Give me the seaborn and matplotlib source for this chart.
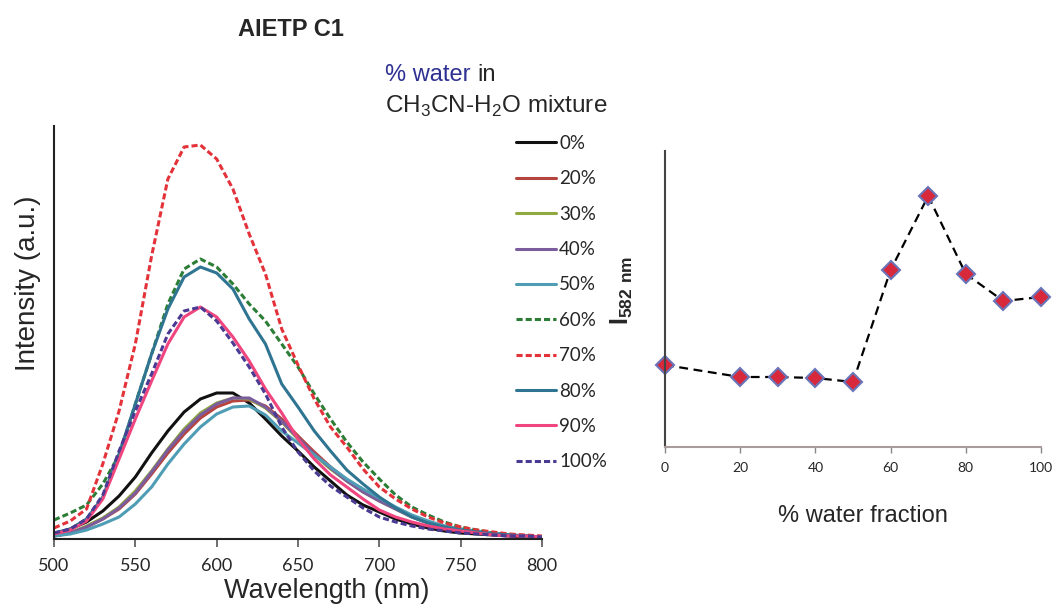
import numpy as np
import pandas as pd
import matplotlib
matplotlib.use("Agg")
import matplotlib.pyplot as plt
import seaborn as sns

# emission spectra (intensity in a.u.)
wavelength = [500, 510, 520, 530, 540, 550, 560, 570, 580, 590, 600, 610, 620, 630, 640, 650,
              660, 670, 680, 690, 700, 710, 720, 730, 740, 750, 760, 770, 780, 790, 800]
water_labels = ["0%", "20%", "30%", "40%", "50%", "60%", "70%", "80%", "90%", "100%"]

i_0 = [5, 10, 17, 28, 43, 62, 86, 108, 127, 140, 146, 146, 136, 120, 103, 88,
       72, 58, 44, 34, 27, 20, 15, 11, 8, 6, 5, 4, 3, 2, 2]
i_20 = [3, 6, 12, 20, 30, 45, 65, 86, 105, 121, 132, 138, 139, 133, 120, 103,
        87, 72, 59, 48, 39, 31, 23, 17, 13, 10, 7, 5, 4, 3, 2]
i_30 = [3, 6, 13, 21, 32, 48, 68, 90, 110, 126, 136, 141, 140, 131, 117, 100,
        84, 70, 58, 47, 38, 30, 22, 16, 12, 9, 7, 5, 4, 3, 2]
i_40 = [3, 6, 12, 20, 31, 46, 67, 89, 108, 124, 135, 141, 141, 132, 118, 101,
        85, 71, 58, 47, 38, 30, 22, 16, 12, 9, 7, 5, 4, 3, 2]
i_50 = [3, 5, 9, 15, 22, 35, 52, 75, 95, 112, 125, 132, 133, 124, 108, 96,
        84, 72, 60, 50, 41, 32, 24, 18, 13, 10, 8, 6, 4, 3, 2]
i_60 = [19, 26, 34, 55, 84, 135, 185, 235, 270, 280, 272, 255, 235, 218, 195, 172,
        145, 120, 97, 77, 60, 44, 32, 24, 17, 12, 9, 6, 4, 3, 2]
i_70 = [11, 18, 30, 75, 128, 195, 283, 360, 392, 394, 380, 350, 305, 265, 210, 174,
        140, 112, 92, 70, 52, 40, 30, 22, 16, 12, 9, 7, 5, 4, 3]
i_80 = [6, 10, 20, 42, 85, 135, 185, 230, 262, 272, 266, 250, 220, 195, 155, 132,
        108, 88, 69, 55, 42, 31, 22, 16, 12, 9, 7, 5, 4, 3, 2]
i_90 = [5, 9, 18, 40, 80, 120, 158, 195, 222, 232, 222, 202, 178, 150, 126, 100,
        80, 64, 52, 40, 29, 22, 17, 13, 10, 8, 6, 4, 3, 3, 2]
i_100 = [6, 10, 20, 44, 88, 128, 165, 205, 228, 232, 218, 196, 172, 145, 112, 87,
         68, 53, 42, 31, 22, 17, 13, 10, 8, 6, 5, 4, 3, 3, 2]

# I at 582 nm versus water fraction
water_frac = [0, 20, 30, 40, 50, 60, 70, 80, 90, 100]
i_582 = [82, 70, 70, 69, 65, 177, 251, 173, 146, 150]

colors = ["#111111", "#b5443f", "#8fa83f", "#7b5c9c", "#4f9db5",
          "#2c7d36", "#e3323a", "#2f7592", "#f0457f", "#4b3a92"]
styles = ["-", "-", "-", "-", "-", (0, (2, 1)), (0, (2, 1)), "-", "-", (0, (2, 1))]

series = [i_0, i_20, i_30, i_40, i_50, i_60, i_70, i_80, i_90, i_100]
df = pd.DataFrame({"wavelength": wavelength * len(series),
                   "intensity": sum(series, []),
                   "water": np.repeat(water_labels, len(wavelength))})

sns.set_theme(style="white")
plt.rcParams["font.family"] = ["Liberation Sans", "DejaVu Sans"]
plt.rcParams["mathtext.fontset"] = "custom"
plt.rcParams["mathtext.rm"] = "Liberation Sans"
plt.rcParams["mathtext.bf"] = "Liberation Sans:bold"

fig = plt.figure(figsize=(10.55, 6.08), dpi=100)

# ---- left panel: spectra ----
ax = fig.add_axes([54 / 1055, 69 / 608, 488 / 1055, 413 / 608])
for lab, col, ls in zip(water_labels, colors, styles):
    sub = df[df["water"] == lab]
    sns.lineplot(data=sub, x="wavelength", y="intensity", color=col, linestyle=ls,
                 linewidth=2.2, label=lab, ax=ax)

ax.set_xlim(500, 800)
ax.set_ylim(0, 413)
ax.set_xticks(range(500, 801, 50))
ax.set_yticks([])
for s in ["top", "right"]:
    ax.spines[s].set_visible(False)
for s in ["left", "bottom"]:
    ax.spines[s].set_color("#222222")
    ax.spines[s].set_linewidth(1.5)
ax.tick_params(axis="x", direction="out", length=6, width=1.2, color="#555555",
               labelsize=13, pad=8, bottom=True)
for t in ax.get_xticklabels():
    t.set_family(["Lato", "DejaVu Sans"])
ax.set_xlabel("Wavelength (nm)", fontsize=19.5)
ax.xaxis.set_label_coords((327 - 54) / 488, -(578 - 539) / 413)
ax.set_ylabel("Intensity (a.u.)", fontsize=20)
ax.yaxis.set_label_coords(-0.026, (539 - 283) / 413)

leg = ax.legend(loc="upper left", bbox_to_anchor=(516 / 1055, 1 - 135 / 608),
                bbox_transform=fig.transFigure, frameon=False, fontsize=13.5,
                handlelength=2.15, handletextpad=0.15, labelspacing=0.98,
                borderaxespad=0, borderpad=0)
for t in leg.get_texts():
    t.set_family(["Lato", "DejaVu Sans"])

fig.text(291 / 1055, 1 - 30 / 608, "AIETP C1", fontsize=17, fontweight="bold",
         ha="center", va="center")
t1 = fig.text(385 / 1055, 1 - 75 / 608, "% water", fontsize=17, color="#2e3192",
              ha="left", va="center")
fig.text(385 / 1055, 1 - 106 / 608, r"CH$_3$CN-H$_2$O mixture", fontsize=17.5,
         ha="left", va="center")
fig.canvas.draw()
bb = t1.get_window_extent()
fig.text((bb.x1 + 0.28 * 17 * 100 / 72) / 1055, 1 - 75 / 608, "in", fontsize=17,
         ha="left", va="center")

# ---- right panel: I582 vs water fraction ----
ax2 = fig.add_axes([665 / 1055, 161 / 608, 376 / 1055, 296 / 608])
sns.lineplot(x=water_frac, y=i_582, ax=ax2, color="black", linestyle=(0, (4, 2.5)),
             linewidth=1.6, marker="D", markersize=9, markerfacecolor="#d8283c",
             markeredgecolor="#6a74b8", markeredgewidth=1.5)
ax2.set_xlim(0, 100)
ax2.set_ylim(0, 296)
ax2.set_xticks([0, 20, 40, 60, 80, 100])
ax2.set_yticks([])
for s in ["top", "right"]:
    ax2.spines[s].set_visible(False)
ax2.spines["left"].set_color("#444444")
ax2.spines["left"].set_linewidth(1.5)
ax2.spines["bottom"].set_color("#a89c9c")
ax2.spines["bottom"].set_linewidth(1.5)
ax2.tick_params(axis="x", direction="out", length=4, width=1, color="#888888",
                labelsize=10, pad=7, bottom=True)
for t in ax2.get_xticklabels():
    t.set_family(["Lato", "DejaVu Sans"])
for line in ax2.get_lines():
    line.set_clip_on(False)
ax2.set_xlabel("% water fraction", fontsize=17)
ax2.xaxis.set_label_coords((863 - 665) / 376, -(505 - 447) / 296)
ax2.set_ylabel(r"$\mathbf{I}_{\mathbf{582\ nm}}$", fontsize=18)
ax2.yaxis.set_label_coords(-0.08, 0.53)

fig.savefig("out.png", dpi=100)
